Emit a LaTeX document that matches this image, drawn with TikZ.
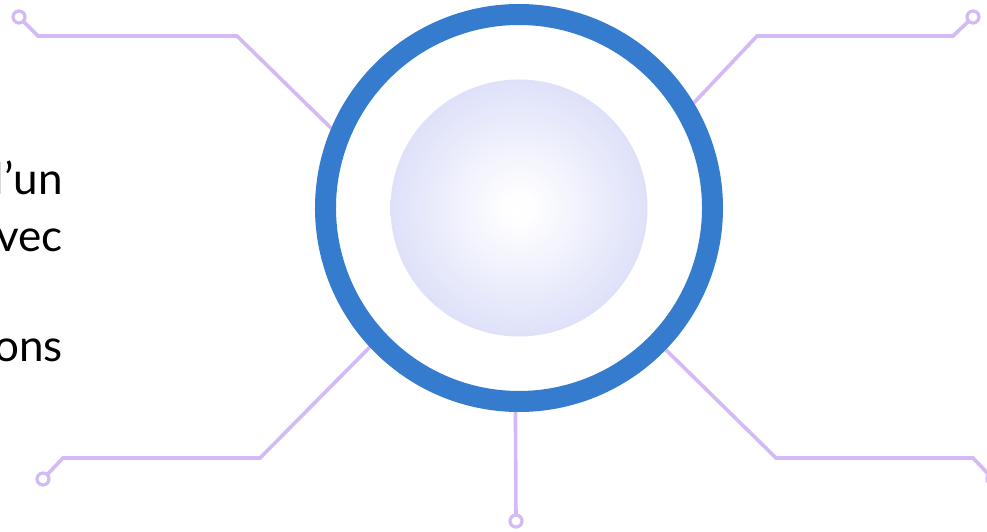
\documentclass[tikz,border=0pt]{standalone}
\usepackage{fontspec}
\setmainfont{Lato}
\definecolor{ringblue}{RGB}{53,124,206}
\definecolor{lav}{RGB}{211,186,245}
\definecolor{glowedge}{RGB}{209,213,247}
\pgfdeclareradialshading{glow}{\pgfpoint{0bp}{0bp}}{color(0bp)=(white); color(3bp)=(white!97!glowedge); color(34bp)=(glowedge); color(72bp)=(glowedge)}
\tikzset{
  conn/.style={draw=lav, line width=3.6pt, line join=miter},
  term/.style={circle, draw=lav, line width=3.2pt, fill=white, minimum size=12pt, inner sep=0pt, outer sep=0pt},
  seg/.style={draw=ringblue, line width=21pt},
  lbl/.style={anchor=base east, inner sep=0pt, font=\fontsize{44pt}{57pt}\selectfont, text=black}
}
\begin{document}
\begin{tikzpicture}[x=1pt,y=1pt]
\useasboundingbox (0,0) rectangle (987,532);
\clip (0,0) rectangle (987,532);
\fill[white] (0,0) rectangle (987,532);
% central ring and disk
\node[circle, minimum size=408pt, inner sep=0pt, outer sep=0pt] (ring) at (519,324) {};
\node[circle, minimum size=257pt, inner sep=0pt, outer sep=0pt, shading=glow] (disk) at (519,324) {};
% terminals
\node[term] (tl) at (19,515) {};
\node[term] (tr) at (973,515) {};
\node[term] (bl) at (43,53) {};
\node[term] (br) at (993,53) {};
\node[term] (bm) at (516,11) {};
% bends
\coordinate (tl1) at (38,496);
\coordinate (tl2) at (237,496);
\coordinate (tr1) at (953,496);
\coordinate (tr2) at (757,496);
\coordinate (bl1) at (63,74);
\coordinate (bl2) at (260,74);
\coordinate (br1) at (973,74);
\coordinate (br2) at (776,74);
% connectors
\draw[conn] (tl) -- (tl1) -- (tl2) -- (ring.157.6);
\draw[conn] (tr) -- (tr1) -- (tr2) -- (ring.31.8);
\draw[conn] (bl) -- (bl1) -- (bl2) -- (ring.223.4);
\draw[conn] (br) -- (br1) -- (br2) -- (ring.316.2);
\draw[conn] (bm) -- (ring.269.2);
% ring segments drawn over connector ends
\foreach \a in {18,90,162,234,306}{
  \draw[seg] (ring.center) ++(\a:193.5pt) arc[start angle=\a, end angle=\a+72.3, radius=193.5pt];
}
% left text (cut at the page edge, as in the reference)
\node[lbl] (t1) at (63,337) {l’un};
\node[lbl] (t2) at (63,280) {vec};
\node[lbl] (t3) at (63,170) {ons};
\end{tikzpicture}
\end{document}
